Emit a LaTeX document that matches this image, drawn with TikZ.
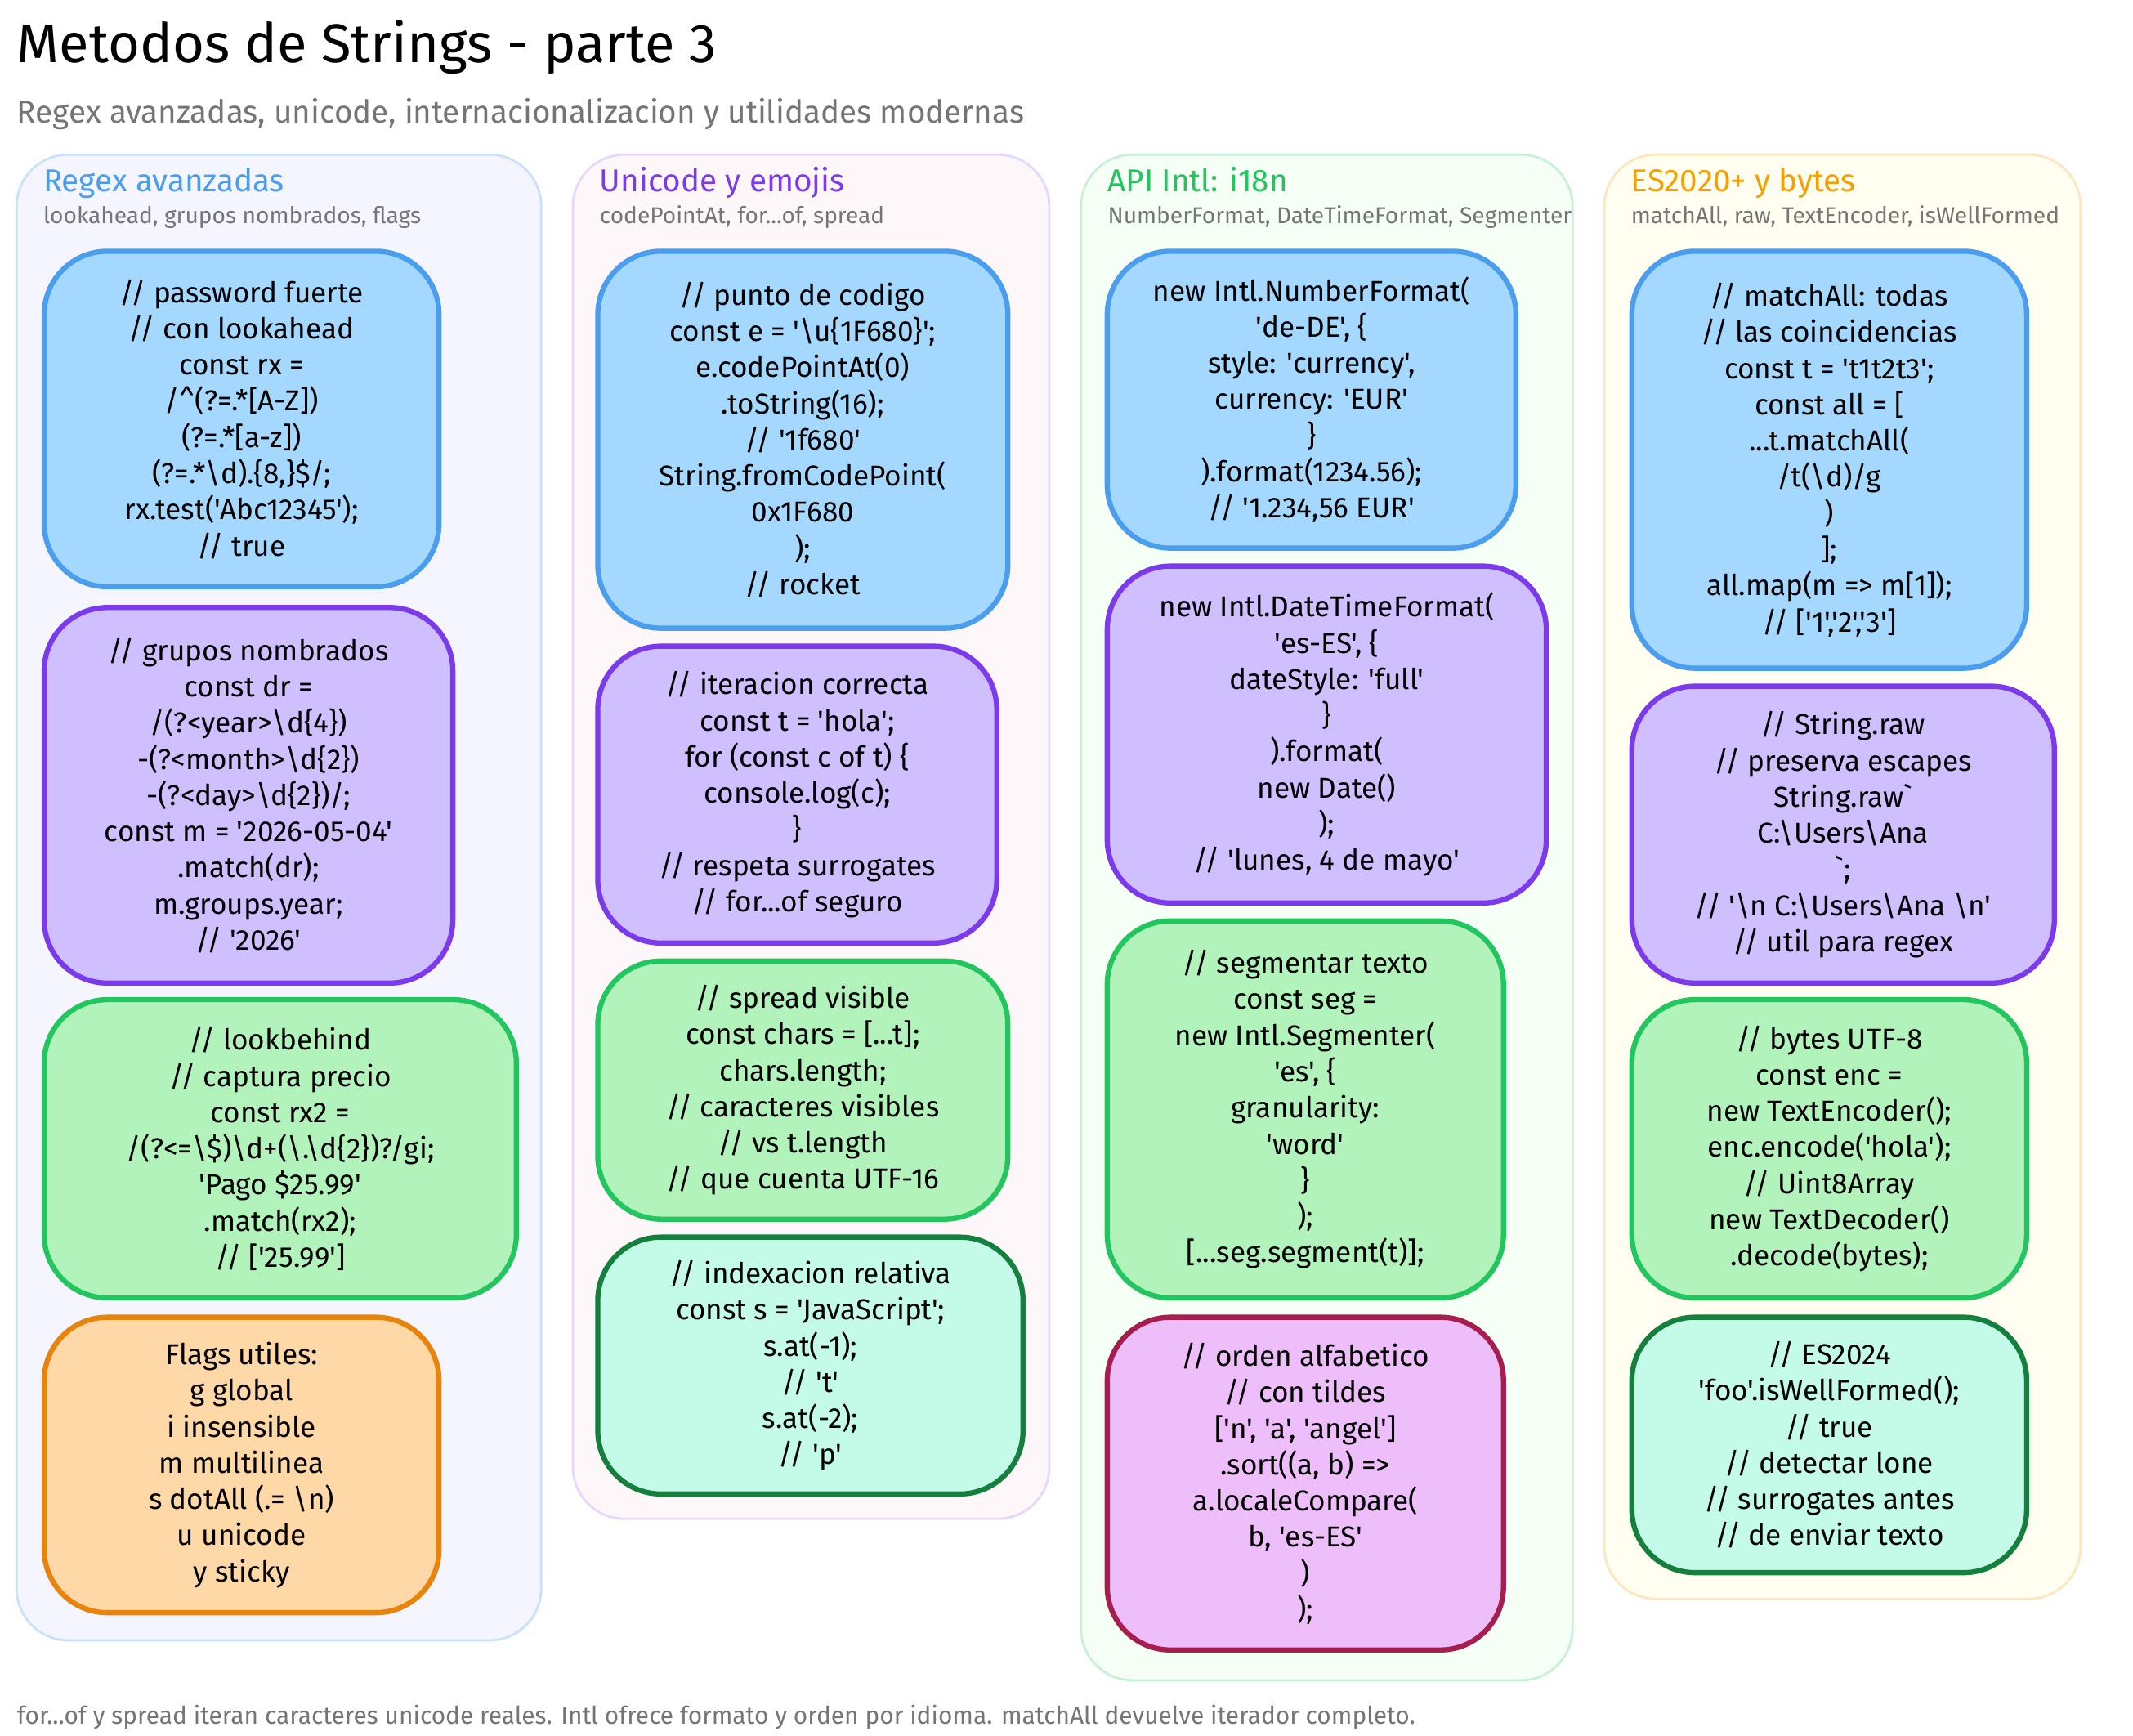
\documentclass[tikz,border=0pt]{standalone}
\usepackage{fontspec}
\newfontfamily\hand{Fira Sans}
\usetikzlibrary{positioning}
\definecolor{bluefill}{HTML}{A5D8FF}\definecolor{blueline}{HTML}{4A9EED}
\definecolor{purplefill}{HTML}{D0BFFF}\definecolor{purpleline}{HTML}{7C3AED}
\definecolor{greenfill}{HTML}{B2F2BB}\definecolor{greenline}{HTML}{22C55E}
\definecolor{orangefill}{HTML}{FFD8A8}\definecolor{orangeline}{HTML}{E8830C}
\definecolor{tealfill}{HTML}{C3FAE8}\definecolor{tealline}{HTML}{15803D}
\definecolor{pinkfill}{HTML}{EEBEFA}\definecolor{pinkline}{HTML}{A61E4D}
\definecolor{yellowtitle}{HTML}{F59F00}
\definecolor{graytext}{HTML}{757575}
\tikzset{
  card/.style = {rectangle, rounded corners=22pt, line width=1.8pt, align=center,
    font=\hand\fontsize{10}{12.6}\selectfont, inner sep=4pt},
  blue/.style = {card, fill=bluefill, draw=blueline},
  purple/.style = {card, fill=purplefill, draw=purpleline},
  green/.style = {card, fill=greenfill, draw=greenline},
  orange/.style = {card, fill=orangefill, draw=orangeline},
  teal/.style = {card, fill=tealfill, draw=tealline},
  pink/.style = {card, fill=pinkfill, draw=pinkline},
  panel/.style = {rounded corners=18pt, line width=0.8pt},
  ptitle/.style = {anchor=base west, inner sep=0pt, font=\hand\fontsize{11}{13}\selectfont},
  psub/.style = {anchor=base west, inner sep=0pt, text=graytext, font=\hand\fontsize{8}{10}\selectfont},
}
% card: name, style, cx, cy, w, h, text
\newcommand{\card}[7]{%
  \node[#2, minimum width={#5*0.01689cm}, minimum height={#6*0.01689cm}] (#1) at (#3,#4) {#7};}
\newcommand{\bs}{\textbackslash}
\begin{document}
\begin{tikzpicture}[x=0.01689cm, y=-0.01689cm]
  \useasboundingbox (0,0) rectangle (1545,1257);
  \fill[white] (0,0) rectangle (1545,1257);

  \node[anchor=base west, inner sep=0pt, font=\hand\fontsize{19}{22}\selectfont] (title) at (12,45) {Metodos de Strings - parte 3};
  \node[anchor=base west, inner sep=0pt, text=graytext, font=\hand\fontsize{11}{13}\selectfont] (subtitle) at (12,89) {Regex avanzadas, unicode, internacionalizacion y utilidades modernas};

  % panels
  \draw[panel, fill=blue!4, draw=blueline!30] (12,112) rectangle (392,1188);
  \draw[panel, fill=purple!3, draw=purpleline!20] (415,112) rectangle (760,1100);
  \draw[panel, fill=green!4, draw=greenline!25] (783,112) rectangle (1139,1217);
  \draw[panel, fill=yellow!6, draw=yellowtitle!25] (1162,112) rectangle (1507,1158);

  \node[ptitle, text=blueline] (t1) at (31,139) {Regex avanzadas};
  \node[psub] (s1) at (31,162) {lookahead, grupos nombrados, flags};
  \node[ptitle, text=purpleline] (t2) at (434,139) {Unicode y emojis};
  \node[psub] (s2) at (434,162) {codePointAt, for...of, spread};
  \node[ptitle, text=greenline] (t3) at (802,139) {API Intl: i18n};
  \node[psub] (s3) at (802,162) {NumberFormat, DateTimeFormat, Segmenter};
  \node[ptitle, text=yellowtitle] (t4) at (1181,139) {ES2020+ y bytes};
  \node[psub] (s4) at (1181,162) {matchAll, raw, TextEncoder, isWellFormed};

  % column 1
  \card{b1}{blue}{175}{303.5}{286}{243}{// password fuerte\\// con lookahead\\const rx =\\/\textasciicircum(?=.*[A-Z])\\(?=.*[a-z])\\(?=.*\bs d).\{8,\}\$/;\\rx.test('Abc12345');\\// true}
  \card{p1}{purple}{180}{576}{296}{272}{// grupos nombrados\\const dr =\\/(?<year>\bs d\{4\})\\-(?<month>\bs d\{2\})\\-(?<day>\bs d\{2\})/;\\const m = '2026-05-04'\\.match(dr);\\m.groups.year;\\// '2026'}
  \card{g1}{green}{203}{832}{342}{216}{// lookbehind\\// captura precio\\const rx2 =\\/(?<=\bs\$)\bs d+(\bs.\bs d\{2\})?/gi;\\'Pago \$25.99'\\.match(rx2);\\// ['25.99']}
  \card{o1}{orange}{175}{1061}{286}{214}{Flags utiles:\\g global\\i insensible\\m multilinea\\s dotAll (.= \bs n)\\u unicode\\y sticky}

  % column 2
  \card{b2}{blue}{581.5}{318.5}{297}{273}{// punto de codigo\\const e = '\bs u\{1F680\}';\\e.codePointAt(0)\\.toString(16);\\// '1f680'\\String.fromCodePoint(\\0x1F680\\);\\// rocket}
  \card{p2}{purple}{577.5}{575.5}{289}{215}{// iteracion correcta\\const t = 'hola';\\for (const c of t) \{\\console.log(c);\\\}\\// respeta surrogates\\// for...of seguro}
  \card{g2}{green}{581.5}{789.5}{297}{187}{// spread visible\\const chars = [...t];\\chars.length;\\// caracteres visibles\\// vs t.length\\// que cuenta UTF-16}
  \card{t2}{teal}{587}{989}{308}{186}{// indexacion relativa\\const s = 'JavaScript';\\s.at(-1);\\// 't'\\s.at(-2);\\// 'p'}

  % column 3
  \card{b3}{blue}{950}{289.5}{296}{215}{new Intl.NumberFormat(\\'de-DE', \{\\style: 'currency',\\currency: 'EUR'\\\}\\).format(1234.56);\\// '1.234,56 EUR'}
  \card{p3}{purple}{961}{532}{318}{244}{new Intl.DateTimeFormat(\\'es-ES', \{\\dateStyle: 'full'\\\}\\).format(\\new Date()\\);\\// 'lunes, 4 de mayo'}
  \card{g3}{green}{945.5}{803.5}{287}{273}{// segmentar texto\\const seg =\\new Intl.Segmenter(\\'es', \{\\granularity:\\'word'\\\}\\);\\{[}...seg.segment(t)];}
  \card{k3}{pink}{945.5}{1074.5}{287}{241}{// orden alfabetico\\// con tildes\\{[}'n', 'a', 'angel']\\.sort((a, b) =>\\a.localeCompare(\\b, 'es-ES'\\)\\);}

  % column 4
  \card{b4}{blue}{1325}{333}{286}{302}{// matchAll: todas\\// las coincidencias\\const t = 't1t2t3';\\const all = [\\...t.matchAll(\\/t(\bs d)/g\\)\\];\\all.map(m => m[1]);\\// ['1','2','3']}
  \card{p4}{purple}{1335}{604.5}{306}{215}{// String.raw\\// preserva escapes\\String.raw`\\C:\bs Users\bs Ana\\`;\\// '\bs n C:\bs Users\bs Ana \bs n'\\// util para regex}
  \card{g4}{green}{1325}{832}{286}{216}{// bytes UTF-8\\const enc =\\new TextEncoder();\\enc.encode('hola');\\// Uint8Array\\new TextDecoder()\\.decode(bytes);}
  \card{t4}{teal}{1325}{1046.5}{286}{185}{// ES2024\\'foo'.isWellFormed();\\// true\\// detectar lone\\// surrogates antes\\// de enviar texto}

  \node[anchor=base west, inner sep=0pt, text=graytext, font=\hand\fontsize{8.5}{10}\selectfont] (footer) at (12,1249) {for...of y spread iteran caracteres unicode reales. Intl ofrece formato y orden por idioma. matchAll devuelve iterador completo.};
\end{tikzpicture}
\end{document}
